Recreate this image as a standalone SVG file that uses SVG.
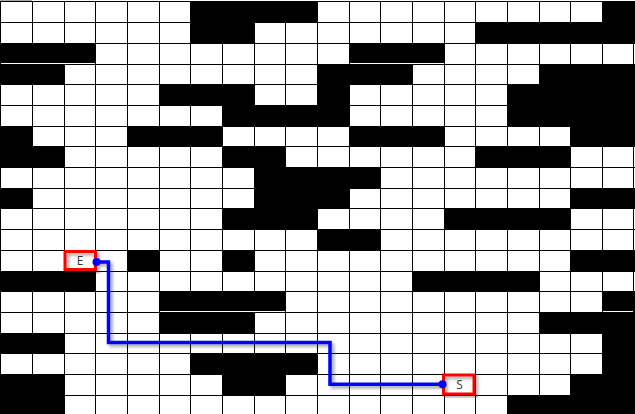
<svg xmlns="http://www.w3.org/2000/svg" width="635" height="414" viewBox="0 0 635 414">
  <defs>
    <style>
      .blk { fill: #000; }
      .grid { stroke: #000; stroke-width: 1; fill: none; shape-rendering: crispEdges; }
      .gap { fill: #fff; shape-rendering: crispEdges; }
      .mark { fill: none; stroke: #ff0000; stroke-width: 3; }
      .lbl { font-family: "Open Sans", "Liberation Sans", sans-serif; font-size: 12px; fill: #333; text-anchor: middle; }
      .route { fill: none; stroke: #0000ff; stroke-width: 3.5; stroke-linejoin: miter; }
      .dot { fill: #0000ff; }
    </style>
    <filter id="sh" x="-20%" y="-20%" width="140%" height="140%">
      <feDropShadow dx="2.5" dy="2.5" stdDeviation="1.5" flood-color="#000" flood-opacity="0.35"/>
    </filter>
  </defs>

  <rect x="0" y="0" width="635" height="414" fill="#fff"/>

  <g id="walls" shape-rendering="crispEdges">
    <rect class="blk" x="190" y="1" width="128" height="22"/>
    <rect class="blk" x="602" y="1" width="33" height="22"/>
    <rect class="blk" x="190" y="22" width="65" height="22"/>
    <rect class="blk" x="475" y="22" width="160" height="22"/>
    <rect class="blk" x="0" y="43" width="96" height="22"/>
    <rect class="blk" x="349" y="43" width="96" height="22"/>
    <rect class="blk" x="0" y="64" width="65" height="21"/>
    <rect class="blk" x="317" y="64" width="96" height="21"/>
    <rect class="blk" x="539" y="64" width="96" height="21"/>
    <rect class="blk" x="159" y="84" width="96" height="22"/>
    <rect class="blk" x="317" y="84" width="33" height="22"/>
    <rect class="blk" x="507" y="84" width="128" height="22"/>
    <rect class="blk" x="222" y="105" width="128" height="22"/>
    <rect class="blk" x="507" y="105" width="128" height="22"/>
    <rect class="blk" x="0" y="126" width="33" height="21"/>
    <rect class="blk" x="127" y="126" width="96" height="21"/>
    <rect class="blk" x="349" y="126" width="96" height="21"/>
    <rect class="blk" x="570" y="126" width="65" height="21"/>
    <rect class="blk" x="0" y="146" width="65" height="22"/>
    <rect class="blk" x="222" y="146" width="64" height="22"/>
    <rect class="blk" x="475" y="146" width="96" height="22"/>
    <rect class="blk" x="254" y="167" width="127" height="22"/>
    <rect class="blk" x="0" y="188" width="33" height="21"/>
    <rect class="blk" x="254" y="188" width="96" height="21"/>
    <rect class="blk" x="570" y="188" width="65" height="21"/>
    <rect class="blk" x="222" y="208" width="96" height="22"/>
    <rect class="blk" x="444" y="208" width="127" height="22"/>
    <rect class="blk" x="317" y="229" width="64" height="22"/>
    <rect class="blk" x="127" y="250" width="33" height="22"/>
    <rect class="blk" x="222" y="250" width="33" height="22"/>
    <rect class="blk" x="570" y="250" width="65" height="22"/>
    <rect class="blk" x="0" y="271" width="96" height="21"/>
    <rect class="blk" x="412" y="271" width="128" height="21"/>
    <rect class="blk" x="159" y="291" width="127" height="22"/>
    <rect class="blk" x="602" y="291" width="33" height="22"/>
    <rect class="blk" x="159" y="312" width="96" height="22"/>
    <rect class="blk" x="539" y="312" width="96" height="22"/>
    <rect class="blk" x="0" y="333" width="65" height="21"/>
    <rect class="blk" x="602" y="333" width="33" height="21"/>
    <rect class="blk" x="190" y="353" width="128" height="22"/>
    <rect class="blk" x="602" y="353" width="33" height="22"/>
    <rect class="blk" x="0" y="374" width="65" height="22"/>
    <rect class="blk" x="222" y="374" width="64" height="22"/>
    <rect class="blk" x="570" y="374" width="65" height="22"/>
    <rect class="blk" x="0" y="395" width="65" height="19"/>
    <rect class="blk" x="507" y="395" width="128" height="19"/>
  </g>

  <g id="gridlines">
    <path class="grid" d="M0.5 1V414 M32.5 1V414 M64.5 1V414 M95.5 1V414 M127.5 1V414 M159.5 1V414 M190.5 1V414 M222.5 1V414 M254.5 1V414 M285.5 1V414 M317.5 1V414 M349.5 1V414 M380.5 1V414 M412.5 1V414 M444.5 1V414 M475.5 1V414 M507.5 1V414 M539.5 1V414 M570.5 1V414 M602.5 1V414 M633.5 1V414"/>
    <path class="grid" d="M0 1.5H635 M0 22.5H635 M0 43.5H635 M0 64.5H635 M0 84.5H635 M0 105.5H635 M0 126.5H635 M0 146.5H635 M0 167.5H635 M0 188.5H635 M0 208.5H635 M0 229.5H635 M0 250.5H635 M0 271.5H635 M0 291.5H635 M0 312.5H635 M0 333.5H635 M0 353.5H635 M0 374.5H635 M0 395.5H635"/>
    <rect x="0" y="0" width="32" height="1" fill="#a8a8a8"/>
    <rect class="gap" x="1" y="63" width="94" height="1"/>
    <rect class="gap" x="350" y="63" width="94" height="1"/>
    <rect class="gap" x="160" y="311" width="125" height="1"/>
    <rect class="gap" x="603" y="311" width="30" height="1"/>
  </g>

  <g id="node-end">
    <rect class="mark" filter="url(#sh)" x="65" y="251.5" width="30.5" height="18"/>
    <text class="lbl" x="80" y="264.5">E</text>
  </g>

  <g id="node-start">
    <rect class="mark" filter="url(#sh)" x="443.5" y="375" width="30.5" height="19"/>
    <text class="lbl" x="459.5" y="388.5">S</text>
  </g>

  <g id="connectors">
    <path class="route" filter="url(#sh)" d="M96.5 262 H108.5 V342.5 H330 V384.3 H442.5"/>
    <circle class="dot" cx="96.5" cy="262" r="4"/>
    <circle class="dot" cx="442.5" cy="384.3" r="4"/>
  </g>
</svg>
